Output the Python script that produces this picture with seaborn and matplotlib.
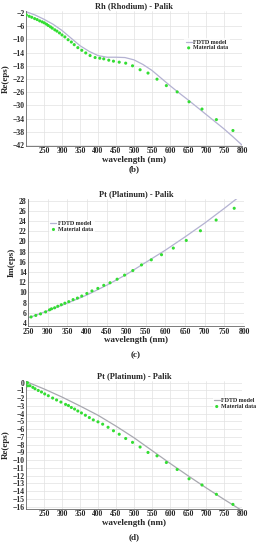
import numpy as np
import pandas as pd
import matplotlib
matplotlib.use("Agg")
import matplotlib.pyplot as plt
import seaborn as sns

# ---- (b) Rh (Rhodium) - Palik, Re(eps) ----
rh_data_wl = [201, 209, 216, 224, 231, 238, 245, 251, 257, 262, 268, 273, 280, 286, 293,
              300, 308, 317, 326, 334, 344, 355, 366, 378, 392, 405, 416, 430, 443, 459,
              477, 496, 517, 539, 564, 590, 620, 653, 689, 729, 775]
rh_data_re = [-2.6, -3.0, -3.3, -3.7, -4.0, -4.4, -4.7, -5.0, -5.4, -5.8, -6.2, -6.6, -7.1, -7.5, -8.05,
              -8.65, -9.25, -10.1, -10.8, -11.6, -12.5, -13.3, -14.1, -14.9, -15.5, -15.7, -15.9, -16.3, -16.6, -16.9,
              -17.2, -18.0, -19.2, -20.2, -22.05, -24.0, -25.9, -28.9, -31.1, -34.3, -37.6]
rh_model_wl = [200, 225, 250, 275, 300, 325, 350, 375, 400, 425, 450, 475, 500, 525, 550,
               575, 600, 625, 650, 675, 700, 725, 750, 775, 800]
rh_model_re = [-1.6, -2.6, -3.9, -5.4, -7.3, -9.6, -11.9, -13.6, -14.9, -15.4, -15.4, -15.5, -16.2, -17.6, -19.4,
               -21.7, -24.0, -26.2, -28.3, -30.5, -32.7, -34.9, -37.1, -39.5, -42.0]

# ---- (c) Pt (Platinum) - Palik, Im(eps) ----
pt_im_wl = [258, 270, 282, 295, 305, 310, 318, 326, 335, 344, 354, 365, 376, 387, 400,
            413, 428, 443, 459, 477, 496, 517, 539, 564, 590, 620, 653, 689, 729, 775]
pt_im = [5.2, 5.5, 5.8, 6.2, 6.6, 6.8, 7.0, 7.3, 7.6, 7.9, 8.2, 8.6, 8.9, 9.3, 9.8,
         10.3, 10.8, 11.4, 11.9, 12.6, 13.4, 14.3, 15.4, 16.4, 17.4, 18.7, 20.2, 22.1, 24.2, 26.5]
pt_im_model_wl = [250, 300, 350, 400, 450, 500, 550, 600, 650, 700, 750, 800]
pt_im_model = [5.0, 6.4, 7.9, 9.5, 11.4, 13.5, 15.9, 18.3, 20.9, 23.6, 26.5, 29.5]

# ---- (d) Pt (Platinum) - Palik, Re(eps) ----
pt_re_wl = [204, 205, 211, 219, 225, 234, 243, 252, 262, 274, 285, 297, 310, 318, 326,
            335, 344, 354, 365, 376, 387, 400, 413, 428, 443, 459, 477, 496, 517, 539,
            564, 590, 620, 653, 689, 729, 775]
pt_re = [0.0, -0.4, -0.39, -0.6, -0.78, -1.0, -1.2, -1.45, -1.68, -1.98, -2.23, -2.5, -2.8, -2.95, -3.2,
         -3.4, -3.65, -3.9, -4.2, -4.5, -4.8, -5.05, -5.35, -5.75, -6.2, -6.65, -7.2, -7.7, -8.3, -9.0,
         -9.44, -10.3, -11.2, -12.4, -13.2, -14.4, -15.7]
pt_re_model_wl = [200, 250, 300, 350, 400, 450, 500, 550, 600, 650, 700, 750, 800]
pt_re_model = [0.15, -0.8, -1.85, -3.0, -4.2, -5.6, -7.1, -8.75, -10.4, -12.0, -13.55, -15.05, -16.5]

sns.set_theme(style="whitegrid")
plt.rcParams["font.family"] = ["Liberation Serif", "DejaVu Serif"]
plt.rcParams["font.weight"] = "bold"

line_col = "#b4b2d2"
pt_col = "#33dd33"

fig = plt.figure(figsize=(2.61, 5.5), dpi=100)


def panel(rect, model_wl, model_y, data_wl, data_y, title, ylabel, xlim, ylim, yticks,
          leg_pos, tag, tag_y, lcol=line_col):
    ax = fig.add_axes(rect)
    sns.lineplot(x=model_wl, y=model_y, ax=ax, color=lcol, lw=0.9, label="FDTD model")
    sns.scatterplot(x=data_wl, y=data_y, ax=ax, color=pt_col, marker="o", s=5,
                    edgecolor="none", label="Material data", zorder=5)
    ax.set_xlim(*xlim)
    ax.set_ylim(*ylim)
    ax.set_xticks(np.arange(250, 801, 50))
    ax.set_yticks(yticks)
    ax.tick_params(labelsize=5.5, pad=1, length=0)
    for lab in ax.get_xticklabels() + ax.get_yticklabels():
        lab.set_fontweight("bold")
    ax.grid(color="#e2e2e2", lw=0.5)
    for s in ax.spines.values():
        s.set_visible(False)
    for side in ("left", "bottom"):
        ax.spines[side].set_visible(True)
        ax.spines[side].set_color("#666666")
        ax.spines[side].set_linewidth(0.6)
    ax.set_title(title, fontsize=6, fontweight="bold", pad=2)
    ax.set_xlabel("wavelength (nm)", fontsize=6.5, fontweight="bold", labelpad=0.5)
    ax.set_ylabel(ylabel, fontsize=6.5, fontweight="bold", labelpad=2)
    leg = ax.legend(loc="upper left", bbox_to_anchor=leg_pos, fontsize=4.3, frameon=True,
                    handlelength=1.0, handletextpad=0.3, borderpad=0.2, labelspacing=0.1,
                    markerscale=1.0, fancybox=False)
    leg.get_frame().set_linewidth(0.0)
    for t in leg.get_texts():
        t.set_fontweight("bold")
    fig.text(rect[0] + rect[2] / 2, tag_y, tag, fontsize=6.5, fontweight="bold", ha="center")
    return ax


panel([0.0996, 0.7345, 0.8274, 0.2455], rh_model_wl, rh_model_re, rh_data_wl, rh_data_re,
      "Rh (Rhodium) - Palik", "Re(eps)", (200, 800), (-42.3, -1.4), np.arange(-42, -1, 4),
      (0.72, 0.82), "(b)", 1 - 171 / 550)

panel([0.107, 0.407, 0.828, 0.231], pt_im_model_wl, pt_im_model, pt_im_wl, pt_im,
      "Pt (Platinum) - Palik", "Im(eps)", (250, 800), (3.4, 28.3), np.arange(4, 29, 2),
      (0.085, 0.86), "(c)", 1 - 357 / 550)

panel([0.0996, 0.0745, 0.8274, 0.2325], pt_re_model_wl, pt_re_model, pt_re_wl, pt_re,
      "Pt (Platinum) - Palik", "Re(eps)", (200, 800), (-16.3, 0.2), np.arange(-16, 1, 1),
      (0.85, 0.9), "(d)", 1 - 539 / 550, lcol="#a8a8b0")

fig.savefig("out.png", dpi=100)
